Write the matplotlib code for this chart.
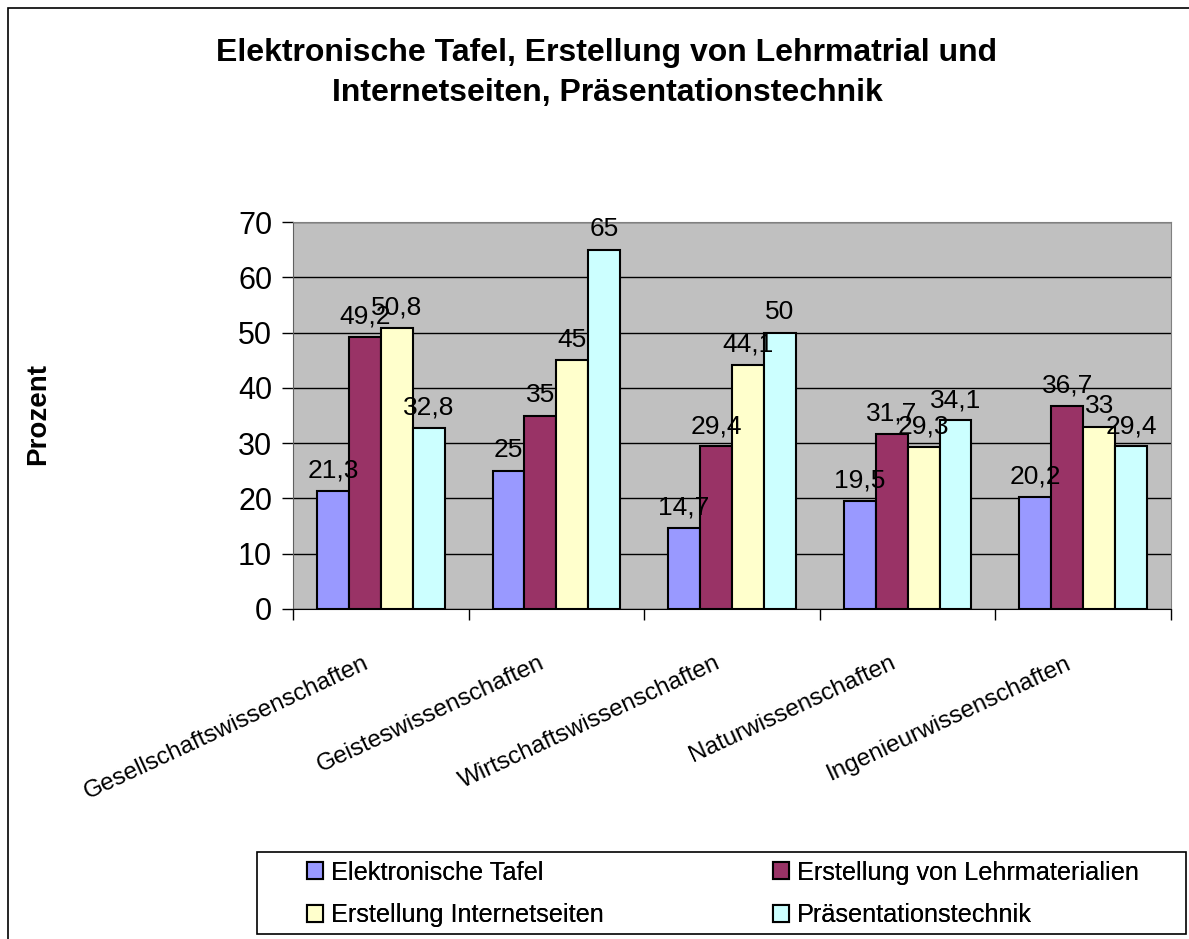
import matplotlib.pyplot as plt
import matplotlib.patches as mpatches
import matplotlib.transforms as mtransforms
import numpy as np

plt.rcParams['font.family'] = ['Liberation Sans', 'DejaVu Sans']

# Data
categories = ["Gesellschaftswissenschaften", "Geisteswissenschaften",
              "Wirtschaftswissenschaften", "Naturwissenschaften",
              "Ingenieurwissenschaften"]
series_names = ["Elektronische Tafel", "Erstellung von Lehrmaterialien",
                "Erstellung Internetseiten", "Präsentationstechnik"]
tafel = [21.3, 25, 14.7, 19.5, 20.2]
lehrmaterial = [49.2, 35, 29.4, 31.7, 36.7]
internet = [50.8, 45, 44.1, 29.3, 33]
praesentation = [32.8, 65, 50, 34.1, 29.4]
colors = ["#9999FF", "#993366", "#FFFFCC", "#CCFFFF"]

title = "Elektronische Tafel, Erstellung von Lehrmatrial und\nInternetseiten, Präsentationstechnik"

fig = plt.figure(figsize=(11.89, 9.39), dpi=100)

# outer chart border (cut off at right and bottom like the original)
fig.patches.append(mpatches.Rectangle((8 / 1189, -0.05), 1.2, 1 - 8 / 939 + 0.05,
                                      transform=fig.transFigure, fill=False,
                                      edgecolor="black", linewidth=1.2))

ax = fig.add_axes([293 / 1189, 1 - 609 / 939, 878 / 1189, 387 / 939])
ax.set_facecolor("#C0C0C0")

x = np.arange(len(categories))
w = 1 / 5.5
all_series = [tafel, lehrmaterial, internet, praesentation]
handles = []
for i, (vals, col, name) in enumerate(zip(all_series, colors, series_names)):
    bars = ax.bar(x + (i - 1.5) * w, vals, w, color=col, edgecolor="black",
                  linewidth=1.5, label=name, zorder=3)
    handles.append(bars)
    for xi, v in zip(x + (i - 1.5) * w, vals):
        ax.annotate(("%g" % v).replace(".", ","), (xi, v), xytext=(0, 6),
                    textcoords="offset points", ha="center", va="bottom",
                    fontsize=19, zorder=4)

ax.set_ylim(0, 70)
ax.set_xlim(-0.5, len(categories) - 0.5)
ax.set_yticks(range(0, 71, 10))
ax.yaxis.grid(True, color="black", linewidth=1)
ax.set_axisbelow(True)
ax.tick_params(axis="y", labelsize=22, length=8, width=1, direction="out", pad=7)

# category boundary ticks, labels at centers
ax.set_xticks(np.arange(-0.5, len(categories)), minor=False)
ax.set_xticklabels([])
ax.tick_params(axis="x", length=8, width=1, direction="out")
ax.set_xticks(x, minor=True)
ax.set_xticklabels(categories, minor=True, rotation=25, ha="right",
                   rotation_mode="anchor", fontsize=17.5)
ax.tick_params(axis="x", which="minor", length=0, pad=31)
shift = mtransforms.ScaledTranslation(-18 / 100, 0, fig.dpi_scale_trans)
for lab in ax.get_xticklabels(minor=True):
    lab.set_transform(lab.get_transform() + shift)

for side in ["top", "right"]:
    ax.spines[side].set_color("#808080")
ax.spines["left"].set_color("#606060")
ax.spines["bottom"].set_color("black")

fig.text(607 / 1189, 1 - 73 / 939, title, ha="center", va="center",
         fontsize=23, fontweight="bold", linespacing=1.4)
fig.text(38 / 1189, 1 - 414 / 939, "Prozent", rotation=90, ha="center",
         va="center", fontsize=20, fontweight="bold")

# legend box with two columns, entries filled row by row
fig.patches.append(mpatches.Rectangle((257 / 1189, 1 - 934 / 939), 929 / 1189, 82 / 939,
                                      transform=fig.transFigure, fill=False,
                                      edgecolor="black", linewidth=1.2))
for cols, x0 in [([0, 2], 307), ([1, 3], 773)]:
    leg = fig.legend(handles=[handles[k] for k in cols],
                     labels=[series_names[k] for k in cols], ncol=1,
                     loc="center left", bbox_to_anchor=(x0 / 1189, 1 - 894 / 939),
                     frameon=False, fontsize=18.2,
                     handlelength=0.63, handleheight=0.63, handletextpad=0.3,
                     borderpad=0, labelspacing=0.75, borderaxespad=0)
    fig.add_artist(leg)

fig.savefig("out.png", dpi=100)
